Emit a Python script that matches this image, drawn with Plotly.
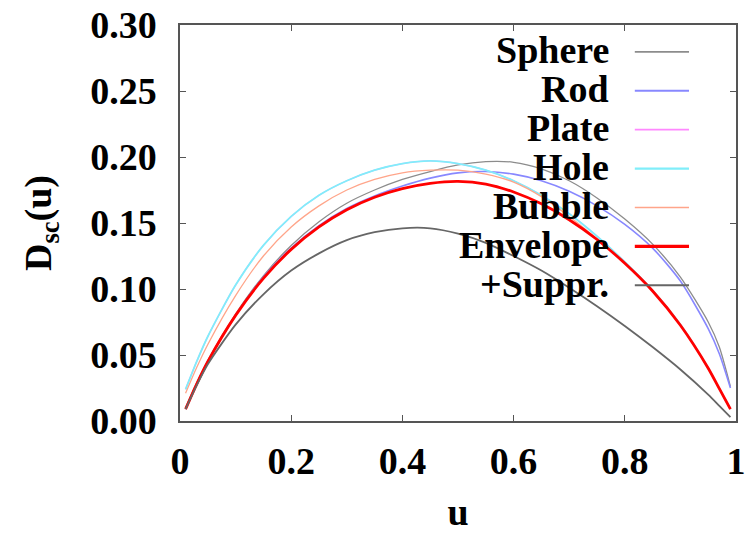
import plotly.graph_objects as go

u = [0.01, 0.03, 0.05, 0.1, 0.15, 0.2, 0.25, 0.3, 0.35, 0.4, 0.45, 0.5,
     0.55, 0.6, 0.65, 0.7, 0.75, 0.8, 0.85, 0.9, 0.95, 0.97, 0.99]

sphere = [0.010, 0.029, 0.046, 0.081, 0.110, 0.133, 0.151, 0.165, 0.175, 0.183, 0.189, 0.194,
          0.1965, 0.196, 0.191, 0.182, 0.169, 0.153, 0.134, 0.109, 0.075, 0.056, 0.026]
rod = [0.009, 0.028, 0.045, 0.080, 0.109, 0.131, 0.148, 0.161, 0.1705, 0.178, 0.184, 0.188,
       0.189, 0.187, 0.182, 0.174, 0.163, 0.149, 0.131, 0.106, 0.070, 0.051, 0.025]
plate = [0.024, 0.045, 0.064, 0.103, 0.133, 0.155, 0.171, 0.182, 0.190, 0.195, 0.197, 0.195,
         0.190, 0.182, 0.171, 0.157, 0.140, 0.1205, 0.0990, 0.0730, 0.040, 0.0245, 0.009]
hole = [0.024, 0.045, 0.064, 0.103, 0.133, 0.155, 0.171, 0.182, 0.190, 0.195, 0.197, 0.195,
        0.190, 0.182, 0.171, 0.157, 0.140, 0.1205, 0.0990, 0.0730, 0.040, 0.0245, 0.009]
bubble = [0.021, 0.0405, 0.058, 0.095, 0.125, 0.147, 0.163, 0.175, 0.183, 0.188, 0.190, 0.190,
          0.187, 0.181, 0.170, 0.155, 0.138, 0.1195, 0.0985, 0.0725, 0.040, 0.0245, 0.009]
envelope = [0.009, 0.028, 0.045, 0.080, 0.108, 0.130, 0.147, 0.160, 0.1695, 0.176, 0.180, 0.1815,
            0.1795, 0.1735, 0.1645, 0.1525, 0.1375, 0.1195, 0.0985, 0.0725, 0.040, 0.0245, 0.009]
suppr = [0.009, 0.027, 0.043, 0.073, 0.096, 0.114, 0.127, 0.137, 0.143, 0.146, 0.146, 0.142,
         0.135, 0.125, 0.114, 0.101, 0.087, 0.072, 0.056, 0.039, 0.020, 0.0115, 0.003]

names = ["Sphere", "Rod", "Plate", "Hole", "Bubble", "Envelope", "+Suppr."]
series = [sphere, rod, plate, hole, bubble, envelope, suppr]
colors = ["#8c8c8c", "#8888ff", "#ff88ff", "#80eefa", "#ffa58a", "#ff0000", "#666666"]
widths = [1.3, 1.6, 1.3, 1.8, 1.3, 2.8, 1.8]

x_ticks = [0, 0.2, 0.4, 0.6, 0.8, 1]
x_tick_text = ["0", "0.2", "0.4", "0.6", "0.8", "1"]
y_ticks = [0, 0.05, 0.10, 0.15, 0.20, 0.25, 0.30]
y_tick_text = ["0.00", "0.05", "0.10", "0.15", "0.20", "0.25", "0.30"]

FONT = "Liberation Serif"
FS = 38
fig = go.Figure()
for name, ys, c, w in zip(names, series, colors, widths):
    fig.add_trace(go.Scatter(x=u, y=ys, mode="lines", name=name,
                             line=dict(color=c, width=w, shape="spline", smoothing=0.7),
                             showlegend=False))

# manual legend (text on left, sample on right, as in the original)
top_row = 0.936
row_step = 0.0982
for i, (name, c, w) in enumerate(zip(names, colors, widths)):
    yy = top_row - i * row_step
    fig.add_annotation(x=0.775, y=yy, xref="paper", yref="paper", text=name,
                       showarrow=False, xanchor="right", yanchor="middle",
                       font=dict(family=FONT, size=FS, color="black", weight="bold"))
    fig.add_shape(type="line", xref="paper", yref="paper", x0=0.818, x1=0.9155,
                  y0=yy - 0.004, y1=yy - 0.004, line=dict(color=c, width=w + 0.4))

axis_common = dict(showgrid=False, zeroline=False, showline=True, mirror="ticks",
                   linecolor="#555555", linewidth=1.5, ticks="inside", ticklen=6,
                   tickcolor="#555555", tickwidth=1.2, automargin=False,
                   tickfont=dict(family=FONT, size=FS, color="black", weight="bold"))

fig.update_xaxes(range=[0, 1], tickvals=x_ticks, ticktext=x_tick_text,
                 title=dict(text="u", font=dict(family=FONT, size=FS, color="black", weight="bold"),
                            standoff=27),
                 ticklabelstandoff=6, **axis_common)
fig.update_yaxes(range=[0, 0.30], tickvals=y_ticks, ticktext=y_tick_text,
                 title=dict(text="D<sub>sc</sub>(u)",
                            font=dict(family=FONT, size=FS, color="black", weight="bold"),
                            standoff=27),
                 ticklabelstandoff=14, **axis_common)

fig.update_layout(width=755, height=533, margin=dict(l=180, r=19, t=25, b=112),
                  paper_bgcolor="white", plot_bgcolor="white")

fig.write_html("out.html")
